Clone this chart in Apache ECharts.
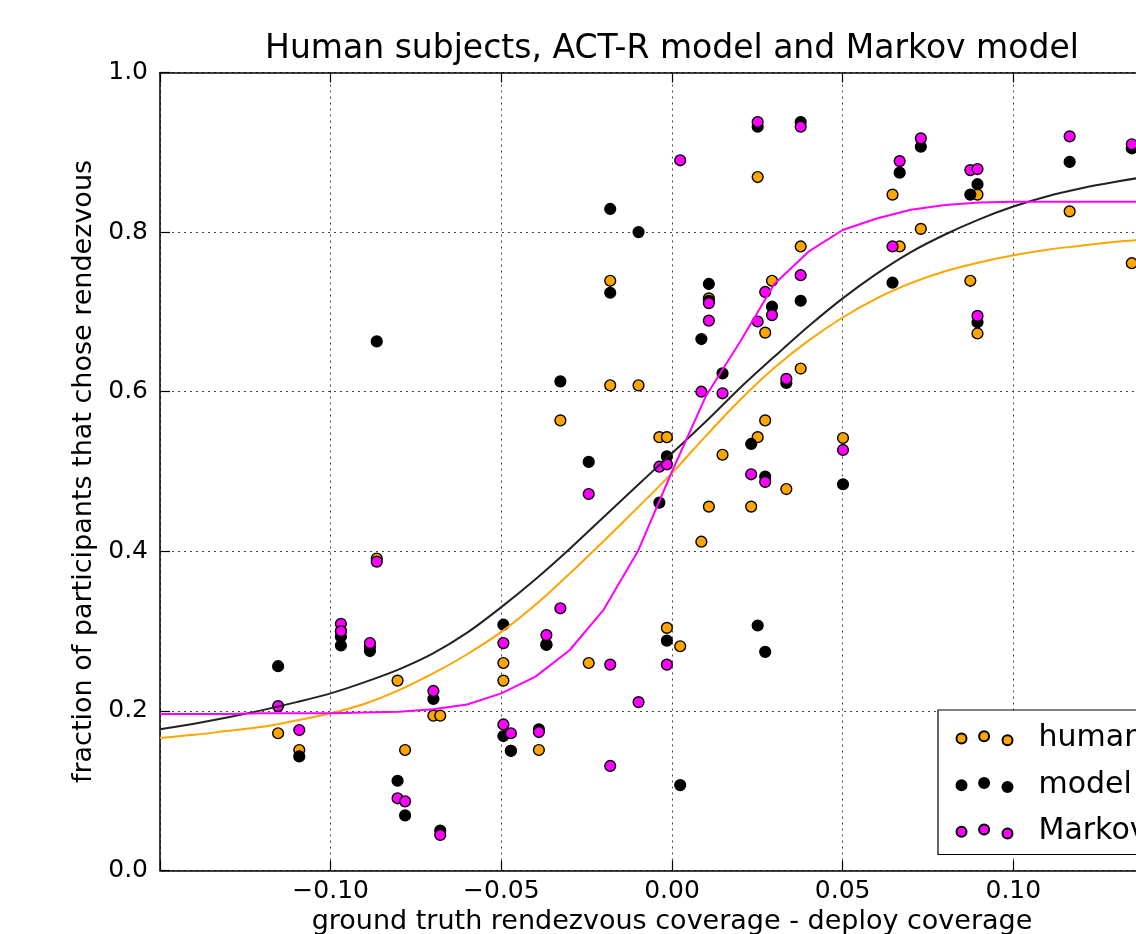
<!DOCTYPE html>
<html><head><meta charset="utf-8">
<script src="https://cdn.jsdelivr.net/npm/echarts@6/dist/echarts.min.js"></script>
<style>html,body{margin:0;padding:0;background:#fff}#c{width:1136px;height:934px}</style>
</head><body><div id="c"></div>
<script>
// ---------- data ----------
const humanPts = [
 [-0.1154,0.172],[-0.1092,0.151],[-0.0970,0.300],[-0.0885,0.280],[-0.0865,0.391],
 [-0.0804,0.238],[-0.0782,0.151],[-0.0699,0.194],[-0.0679,0.194],[-0.0494,0.260],
 [-0.0494,0.238],[-0.0472,0.150],[-0.0368,0.283],[-0.0390,0.151],[-0.0327,0.564],
 [-0.0244,0.260],[-0.0181,0.739],[-0.0181,0.608],[-0.0098,0.608],[-0.0037,0.543],
 [-0.0015,0.543],[-0.0015,0.304],[0.0024,0.281],[0.0086,0.412],[0.0108,0.717],
 [0.0108,0.456],[0.0148,0.521],[0.0232,0.456],[0.0251,0.869],[0.0251,0.543],
 [0.0273,0.674],[0.0273,0.564],[0.0293,0.739],[0.0335,0.478],[0.0377,0.782],
 [0.0377,0.629],[0.0501,0.542],[0.0646,0.847],[0.0667,0.782],[0.0729,0.804],
 [0.0874,0.739],[0.0895,0.847],[0.0895,0.673],[0.1165,0.826],[0.1347,0.761]
];
const modelPts = [
 [-0.1154,0.256],[-0.1092,0.143],[-0.0970,0.293],[-0.0970,0.282],[-0.0885,0.275],[-0.0865,0.663],
 [-0.0804,0.1125],[-0.0782,0.069],[-0.0699,0.215],[-0.0679,0.050],[-0.0494,0.308],
 [-0.0494,0.1685],[-0.0472,0.150],[-0.0368,0.283],[-0.0390,0.177],[-0.0327,0.613],
 [-0.0244,0.512],[-0.0181,0.829],[-0.0181,0.724],[-0.0098,0.800],[-0.0037,0.461],
 [-0.0015,0.519],[-0.0015,0.288],[0.0024,0.107],[0.0086,0.666],[0.0108,0.735],
 [0.0108,0.714],[0.0148,0.623],[0.0232,0.5345],[0.0251,0.932],[0.0251,0.307],
 [0.0273,0.4935],[0.0273,0.274],[0.0293,0.7065],[0.0335,0.611],[0.0377,0.938],
 [0.0377,0.714],[0.0501,0.484],[0.0646,0.7366],[0.0667,0.8745],[0.0729,0.907],
 [0.0874,0.847],[0.0895,0.860],[0.0895,0.687],[0.1165,0.888],[0.1347,0.905]
];
const markovPts = [
 [-0.1154,0.206],[-0.1092,0.176],[-0.0970,0.309],[-0.0970,0.300],[-0.0885,0.285],
 [-0.0865,0.387],[-0.0804,0.0905],[-0.0782,0.0867],[-0.0699,0.225],[-0.0679,0.0445],
 [-0.0494,0.285],[-0.0494,0.183],[-0.0472,0.172],[-0.0368,0.295],[-0.0390,0.1735],
 [-0.0327,0.3286],[-0.0244,0.4718],[-0.0181,0.258],[-0.0181,0.131],[-0.0098,0.211],
 [-0.0037,0.506],[-0.0015,0.509],[-0.0015,0.258],[0.0024,0.890],[0.0086,0.600],
 [0.0108,0.711],[0.0108,0.689],[0.0148,0.598],[0.0232,0.4965],[0.0251,0.938],
 [0.0251,0.688],[0.0273,0.725],[0.0273,0.487],[0.0293,0.696],[0.0335,0.616],
 [0.0377,0.932],[0.0377,0.746],[0.0501,0.527],[0.0646,0.782],[0.0667,0.889],
 [0.0729,0.9175],[0.0874,0.8777],[0.0895,0.879],[0.0895,0.695],[0.1165,0.920],[0.1347,0.910]
];
const curveX = [-0.15,-0.14,-0.13,-0.12,-0.11,-0.10,-0.09,-0.08,-0.07,-0.06,-0.05,-0.04,-0.03,-0.02,-0.01,
 0.00,0.01,0.02,0.03,0.04,0.05,0.06,0.07,0.08,0.09,0.10,0.11,0.12,0.13,0.14,0.15];
const humanFit = [0.166,0.170,0.175,0.180,0.188,0.197,0.209,0.226,0.247,0.271,0.299,0.333,0.372,0.413,0.455,
 0.498,0.545,0.590,0.630,0.664,0.693,0.717,0.736,0.751,0.762,0.771,0.778,0.783,0.788,0.791,0.793];
const modelFit = [0.177,0.184,0.192,0.201,0.211,0.222,0.236,0.252,0.272,0.298,0.330,0.365,0.403,0.443,0.483,
 0.523,0.563,0.605,0.644,0.682,0.717,0.748,0.775,0.797,0.816,0.832,0.845,0.855,0.863,0.870,0.875];
const markovFit = [0.196,0.196,0.196,0.197,0.197,0.197,0.198,0.199,0.202,0.208,0.222,0.243,0.276,0.327,0.400,
 0.500,0.595,0.663,0.735,0.7755,0.8026,0.817,0.828,0.834,0.837,0.838,0.838,0.838,0.838,0.838,0.838];
const xTicks = [-0.15,-0.10,-0.05,0.00,0.05,0.10,0.15];
const yTicks = [0.0,0.2,0.4,0.6,0.8,1.0];
const seriesNames = ['human','model','Markov'];

// ---------- chart ----------
const FONT = 'DejaVu Sans';
const ORANGE = '#FFA500', MAGENTA = '#FF00FF';
function pair(xs, ys){ return xs.map((x,i)=>[x, ys[i]]); }
function circ(cx, cy, r){ return `M${cx-r},${cy}A${r},${r},0,1,1,${cx+r},${cy}A${r},${r},0,1,1,${cx-r},${cy}Z`; }
const R = 5;
const legendIcon = 'path://' + circ(R, 7.3, R) + circ(27.6, 5, R) + circ(51, 9, R);
const xFmt = v => { if (Math.abs(v) > 0.1499) return ''; const s = Math.abs(v).toFixed(2); return (v < -1e-9 ? '\u2212' : '') + s; };

const chart = echarts.init(document.getElementById('c'), null, {renderer:'canvas'});
const gridSplit = {show:true, lineStyle:{color:'#444', width:1, type:[2,4]}};
const markerStyle = c => ({color:c, borderColor:'#000', borderWidth:1.4, opacity:1});
chart.setOption({
  animation:false,
  backgroundColor:'#fff',
  textStyle:{fontFamily:FONT},
  title:{text:'Human subjects, ACT-R model and Markov model', left:672, top:33, textAlign:'center', padding:0,
    textStyle:{fontFamily:FONT, fontSize:33, fontWeight:'normal', color:'#000'}},
  grid:{left:160, top:72.5, width:1024, height:798, show:false, containLabel:false, outerBoundsMode:'none'},
  legend:{
    data: seriesNames.map(n=>({name:n, icon:legendIcon})),
    orient:'vertical', left:938, top:710, itemWidth:56, itemHeight:14, itemGap:16.6,
    padding:[13.3, 200, 8, 17.5], backgroundColor:'#fff', borderColor:'#000', borderWidth:1.2, borderRadius:0,
    textStyle:{fontFamily:FONT, fontSize:30, lineHeight:30, color:'#000', padding:[0,0,0,21]},
    selectedMode:false
  },
  xAxis:[{
    type:'value', min:xTicks[0], max:xTicks[xTicks.length-1], interval:0.05, position:'bottom',
    name:'ground truth rendezvous coverage - deploy coverage', nameLocation:'middle', nameGap:32,
    nameTextStyle:{fontFamily:FONT, fontSize:27, color:'#000'},
    axisLine:{show:true, onZero:false, lineStyle:{color:'#000', width:1.5}},
    axisTick:{show:true, inside:true, length:10, lineStyle:{color:'#000', width:1.2}},
    axisLabel:{show:true, formatter:xFmt, fontFamily:FONT, fontSize:25, color:'#000', margin:8, showMinLabel:true, showMaxLabel:true},
    splitLine:gridSplit
  },{
    type:'value', min:xTicks[0], max:xTicks[xTicks.length-1], interval:0.05, position:'top',
    axisLine:{show:true, onZero:false, lineStyle:{color:'#000', width:1.5}},
    axisTick:{show:true, inside:true, length:10, lineStyle:{color:'#000', width:1.2}},
    axisLabel:{show:false}, splitLine:{show:false}
  }],
  yAxis:[{
    type:'value', min:yTicks[0], max:yTicks[yTicks.length-1], interval:0.2,
    name:'fraction of participants that chose rendezvous', nameLocation:'middle', nameGap:58, nameRotate:90,
    nameTextStyle:{fontFamily:FONT, fontSize:27, color:'#000'},
    axisLine:{show:true, onZero:false, lineStyle:{color:'#000', width:1.5}},
    axisTick:{show:true, inside:true, length:10, lineStyle:{color:'#000', width:1.2}},
    axisLabel:{formatter:v=>v.toFixed(1), fontFamily:FONT, fontSize:25, color:'#000', margin:12},
    splitLine:gridSplit
  }],
  series:[
    {name:'human', type:'scatter', data:humanPts, symbol:'circle', symbolSize:10.8, z:2, itemStyle:markerStyle(ORANGE)},
    {name:'model', type:'scatter', data:modelPts, symbol:'circle', symbolSize:10.8, z:2, itemStyle:markerStyle('#000')},
    {name:'Markov', type:'scatter', data:markovPts, symbol:'circle', symbolSize:10.8, z:2, itemStyle:markerStyle(MAGENTA)},
    {name:'human fit', type:'line', data:pair(curveX, humanFit), showSymbol:false, smooth:0.3, z:3,
      lineStyle:{color:ORANGE, width:2}},
    {name:'model fit', type:'line', data:pair(curveX, modelFit), showSymbol:false, smooth:0.3, z:3,
      lineStyle:{color:'#222', width:2}},
    {name:'Markov fit', type:'line', data:pair(curveX, markovFit), showSymbol:false, smooth:false, z:3,
      lineStyle:{color:MAGENTA, width:2}}
  ]
});
</script></body></html>
